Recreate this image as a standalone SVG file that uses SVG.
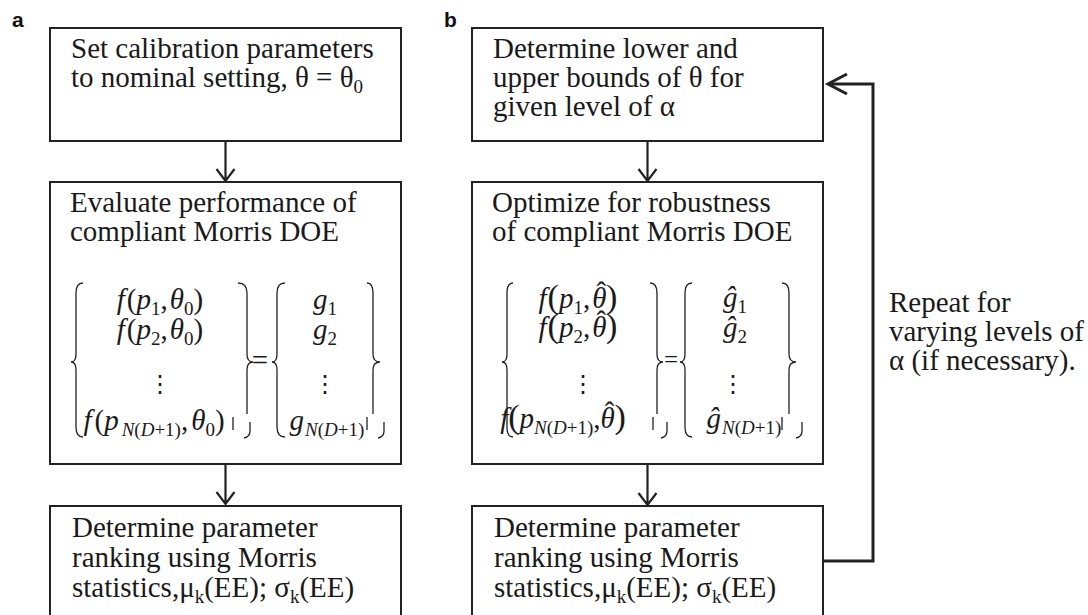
<svg xmlns="http://www.w3.org/2000/svg" width="1088" height="615" viewBox="0 0 1088 615">
<defs>
<style>
.box{fill:#fff;stroke:#222;stroke-width:2}
.t{font-family:"Liberation Serif","Times New Roman",serif;font-size:29px;fill:#1a1a1a}
.m{font-family:"Liberation Serif","Times New Roman",serif;font-size:29px;fill:#1a1a1a}
.i{font-style:italic}
.s{font-size:19px}
.ss{font-size:19px;font-style:italic}
.lbl{font-family:"Liberation Sans",Arial,sans-serif;font-weight:bold;font-size:21px;fill:#111}
.br{fill:none;stroke:#222;stroke-width:1.3}
.con{fill:none;stroke:#222;stroke-width:2.2}
.loop{fill:none;stroke:#222;stroke-width:3}
.dots{font-family:"DejaVu Serif","Liberation Serif",serif;font-size:24px;fill:#1a1a1a}
.big{font-size:34px}
</style>
</defs>
<rect width="1088" height="615" fill="#fff"/>
<text class="lbl" x="12" y="27">a</text>
<text class="lbl" x="444" y="27">b</text>

<g id="connectors">
<path class="con" d="M225.5 142 V181 M216.5 169 L225.5 181 L234.5 169"/>
<path class="con" d="M225.5 465 V504 M216.5 492 L225.5 504 L234.5 492"/>
<path class="con" d="M647.5 142 V181 M638.5 169 L647.5 181 L656.5 169"/>
<path class="con" d="M647.5 465 V505 M638.5 493 L647.5 505 L656.5 493"/>
<path class="loop" d="M824 561 H873 V84 H828"/>
<path class="loop" d="M847 74 L828 84 L847 94"/>
</g>

<g id="a1">
<rect class="box" x="50" y="28" width="351" height="113"/>
<text class="t" x="71" y="58">Set calibration parameters</text>
<text class="t" x="71" y="87">to nominal setting, θ = θ<tspan class="s" dy="6">0</tspan></text>
</g>

<g id="a2">
<rect class="box" x="50" y="182" width="351" height="282"/>
<text class="t" x="70" y="212">Evaluate performance of</text>
<text class="t" x="70" y="241">compliant Morris DOE</text>
<path class="br" d="M83 283 Q76 283 76 293 L76 354 Q76 362 71 362 Q76 362 76 370 L76 427 Q76 437 83 437"/>
<path class="br" d="M238 283 Q247 283 247 293 L247 354 Q247 362 253 362 Q247 362 247 370 L247 414"/>
<path class="br" d="M233 417 V430 M250 422 V431 Q250 437 244 438"/>
<text class="m" x="160" y="309" text-anchor="middle"><tspan class="i">f</tspan><tspan dx="2">(</tspan><tspan class="i">p</tspan><tspan class="s" dy="6">1</tspan><tspan dy="-6">,</tspan><tspan class="i" dx="2">θ</tspan><tspan class="s" dy="6">0</tspan><tspan dy="-6">)</tspan></text>
<text class="m" x="160" y="339" text-anchor="middle"><tspan class="i">f</tspan><tspan dx="2">(</tspan><tspan class="i">p</tspan><tspan class="s" dy="6">2</tspan><tspan dy="-6">,</tspan><tspan class="i" dx="2">θ</tspan><tspan class="s" dy="6">0</tspan><tspan dy="-6">)</tspan></text>
<text class="dots" x="160" y="392" text-anchor="middle">⋮</text>
<text class="m" x="154" y="430" text-anchor="middle"><tspan class="i">f</tspan><tspan dx="3">(</tspan><tspan class="i">p</tspan><tspan class="ss" dy="6" dx="3">N</tspan><tspan class="s">(</tspan><tspan class="ss">D</tspan><tspan class="s">+1)</tspan><tspan dy="-6">,</tspan><tspan class="i" dx="3">θ</tspan><tspan class="s" dy="6">0</tspan><tspan dy="-6">)</tspan></text>
<text class="m" x="260" y="370" text-anchor="middle">=</text>
<path class="br" d="M285 283 Q277 283 277 293 L277 354 Q277 362 272 362 Q277 362 277 370 L277 427 Q277 437 285 437"/>
<path class="br" d="M367 283 Q373 283 373 293 L373 354 Q373 362 380 362 Q373 362 373 370 L373 414"/>
<path class="br" d="M367 417 V430 M384 422 V431 Q384 437 378 438"/>
<text class="m" x="325" y="309" text-anchor="middle"><tspan class="i">g</tspan><tspan class="s" dy="6">1</tspan></text>
<text class="m" x="325" y="339" text-anchor="middle"><tspan class="i">g</tspan><tspan class="s" dy="6">2</tspan></text>
<text class="dots" x="325" y="392" text-anchor="middle">⋮</text>
<text class="m" x="327" y="430" text-anchor="middle"><tspan class="i">g</tspan><tspan class="ss" dy="6" dx="1">N</tspan><tspan class="s">(</tspan><tspan class="ss">D</tspan><tspan class="s">+1)</tspan></text>
</g>

<g id="a3">
<rect class="box" x="50" y="506" width="351" height="120"/>
<text class="t" x="72" y="537">Determine parameter</text>
<text class="t" x="72" y="567">ranking using Morris</text>
<text class="t" x="72" y="597">statistics,μ<tspan class="s" dy="6">k</tspan><tspan dy="-6">(EE); σ</tspan><tspan class="s" dy="6">k</tspan><tspan dy="-6">(EE)</tspan></text>
</g>

<g id="b1">
<rect class="box" x="472" y="28" width="351" height="113"/>
<text class="t" x="493" y="58">Determine lower and</text>
<text class="t" x="493" y="87">upper bounds of  θ for</text>
<text class="t" x="493" y="116">given level of α</text>
</g>

<g id="b2">
<rect class="box" x="472" y="182" width="351" height="282"/>
<text class="t" x="492" y="212">Optimize for robustness</text>
<text class="t" x="492" y="241">of compliant Morris DOE</text>
<path class="br" d="M513 283 Q507 283 507 293 L507 354 Q507 362 502 362 Q507 362 507 370 L507 427 Q507 437 513 437"/>
<path class="br" d="M650 283 Q657 283 657 293 L657 354 Q657 362 663 362 Q657 362 657 370 L657 414"/>
<path class="br" d="M653 417 V430 M667 422 V431 Q667 437 661 438"/>
<text class="m" x="578" y="308" text-anchor="middle"><tspan class="i">f</tspan><tspan dx="1" class="big">(</tspan><tspan class="i">p</tspan><tspan class="s" dy="6">1</tspan><tspan dy="-6">,</tspan><tspan class="i" dx="2">θ</tspan><tspan dx="-10" dy="-6">ˆ</tspan><tspan class="big" dy="6">)</tspan></text>
<text class="m" x="578" y="337" text-anchor="middle"><tspan class="i">f</tspan><tspan dx="1" class="big">(</tspan><tspan class="i">p</tspan><tspan class="s" dy="6">2</tspan><tspan dy="-6">,</tspan><tspan class="i" dx="2">θ</tspan><tspan dx="-10" dy="-6">ˆ</tspan><tspan class="big" dy="6">)</tspan></text>
<text class="dots" x="583" y="392" text-anchor="middle">⋮</text>
<text class="m" x="563" y="428" text-anchor="middle"><tspan class="i">f</tspan><tspan class="big">(</tspan><tspan class="i">p</tspan><tspan class="ss" dy="6">N</tspan><tspan class="s">(</tspan><tspan class="ss">D</tspan><tspan class="s">+1)</tspan><tspan dy="-6">,</tspan><tspan class="i">θ</tspan><tspan dx="-10" dy="-6">ˆ</tspan><tspan class="big" dy="6">)</tspan></text>
<text class="m" x="671" y="368" text-anchor="middle" style="font-size:25px">=</text>
<path class="br" d="M692 283 Q685 283 685 293 L685 354 Q685 362 680 362 Q685 362 685 370 L685 427 Q685 437 692 437"/>
<path class="br" d="M782 283 Q789 283 789 293 L789 354 Q789 362 796 362 Q789 362 789 370 L789 414"/>
<path class="br" d="M782 417 V430 M802 422 V431 Q802 437 796 438"/>
<text class="m" x="735" y="307" text-anchor="middle"><tspan class="i">ĝ</tspan><tspan class="s" dy="6">1</tspan></text>
<text class="m" x="735" y="337" text-anchor="middle"><tspan class="i">ĝ</tspan><tspan class="s" dy="6">2</tspan></text>
<text class="dots" x="733" y="392" text-anchor="middle">⋮</text>
<text class="m" x="744" y="428" text-anchor="middle"><tspan class="i">ĝ</tspan><tspan class="ss" dy="6" dx="1">N</tspan><tspan class="s">(</tspan><tspan class="ss">D</tspan><tspan class="s">+1)</tspan></text>
</g>

<g id="b3">
<rect class="box" x="472" y="506" width="351" height="120"/>
<text class="t" x="494" y="537">Determine parameter</text>
<text class="t" x="494" y="567">ranking using Morris</text>
<text class="t" x="494" y="597">statistics,μ<tspan class="s" dy="6">k</tspan><tspan dy="-6">(EE); σ</tspan><tspan class="s" dy="6">k</tspan><tspan dy="-6">(EE)</tspan></text>
</g>

<g id="note">
<text class="t" x="889" y="312">Repeat for</text>
<text class="t" x="889" y="341">varying levels of</text>
<text class="t" x="889" y="370">α (if necessary).</text>
</g>
</svg>
